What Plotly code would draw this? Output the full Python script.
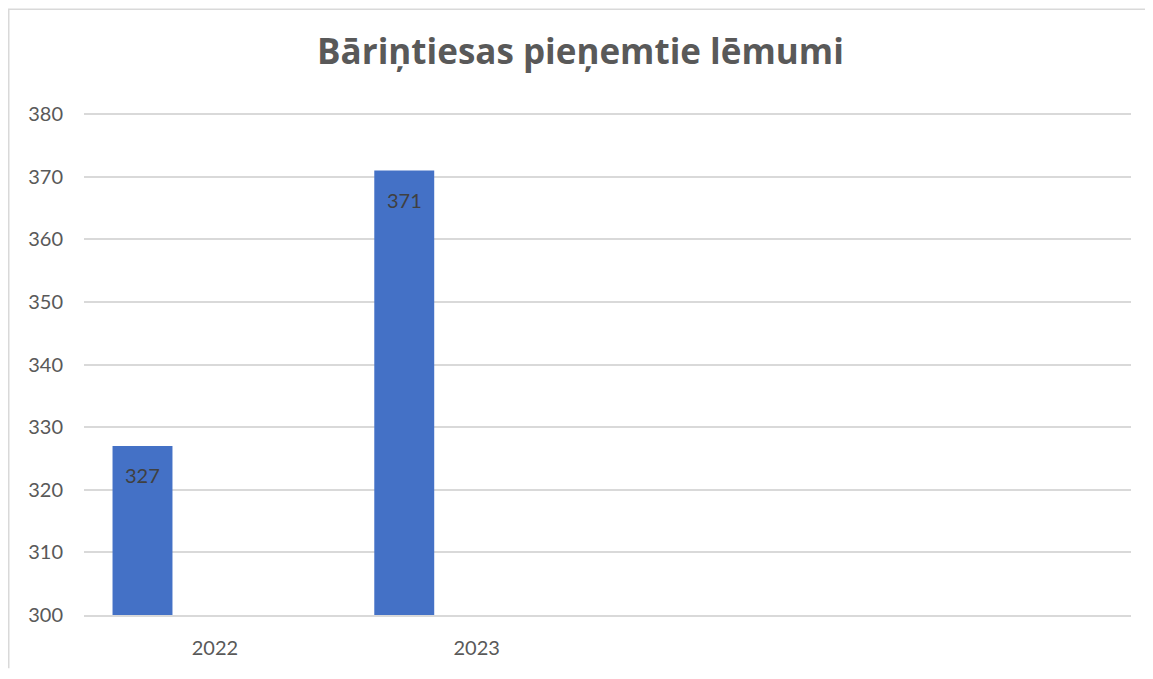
import plotly.graph_objects as go

years = ["2022", "2023"]
values = [327, 371]
positions = [0, 1]
n_slots = 4
y_ticks = [300, 310, 320, 330, 340, 350, 360, 370, 380]

# page body has an 8px margin, so the figure is placed at (8, 8);
# keep the figure inside the viewport so no scrollbar appears
W, H = 1145, 663
ml, mr, mt, mb = 76, 22, 105, 54
pw = W - ml - mr
ph = H - mt - mb

bar_width = 0.229
bar_offset = -0.391

fig = go.Figure()
fig.add_trace(go.Bar(
    x=positions, y=values, width=bar_width, offset=bar_offset,
    marker=dict(color="#4471C6", line=dict(width=0)),
    hoverinfo="y",
))

for p, v in zip(positions, values):
    fig.add_annotation(x=p + bar_offset + bar_width / 2, y=v, text=str(v),
                       showarrow=False, yanchor="top", yshift=-15,
                       font=dict(size=20, color="#404040", family="Lato"))

bx0 = (0.75 - ml) / pw
bx1 = (W + 40 - ml) / pw
by0 = -(H - 0.5 - (H - mb)) / ph
by1 = 1 + (mt - 0.75) / ph
border_path = f"M {bx0} {by0} L {bx0} {by1} L {bx1} {by1}"

fig.update_layout(
    width=W, height=H,
    margin=dict(l=ml, r=mr, t=mt, b=mb),
    paper_bgcolor="white", plot_bgcolor="white",
    showlegend=False,
    font=dict(family="Lato", color="#595959"),
    title=dict(text="<b>Bāriņtiesas pieņemtie lēmumi</b>", x=0.5, xanchor="center",
               y=1 - 44 / H, yanchor="middle",
               font=dict(size=35, color="#595959", family="Open Sans")),
    xaxis=dict(range=[-0.5, n_slots - 0.5], tickmode="array", tickvals=positions,
               ticktext=years, showgrid=False, zeroline=False, showline=True,
               linecolor="#D9D9D9", linewidth=1.5, ticks="", ticklabelstandoff=14,
               tickfont=dict(size=20, color="#595959")),
    yaxis=dict(range=[300, 380.2], tickmode="array", tickvals=y_ticks,
               showgrid=True, gridcolor="#D9D9D9", gridwidth=1.5, zeroline=False,
               showline=False, ticks="", ticklabelstandoff=20,
               tickfont=dict(size=20, color="#595959")),
    shapes=[dict(type="path", xref="paper", yref="paper", path=border_path,
                 line=dict(color="#D9D9D9", width=1.5), fillcolor="rgba(0,0,0,0)",
                 layer="below")],
)

fig.write_html("out.html")
